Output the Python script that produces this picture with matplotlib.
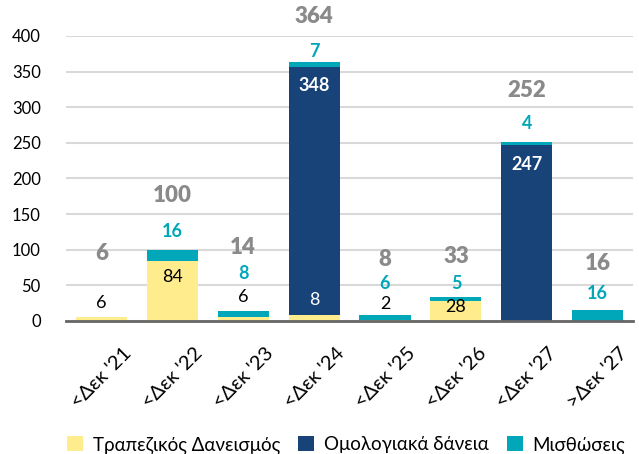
import numpy as np
import matplotlib.pyplot as plt

plt.rcParams['font.family'] = ['Lato', 'DejaVu Sans']

categories = ["<Δεκ '21", "<Δεκ '22", "<Δεκ '23", "<Δεκ '24",
              "<Δεκ '25", "<Δεκ '26", "<Δεκ '27", ">Δεκ '27"]
bank = [6, 84, 6, 8, 2, 28, 0, 0]
bonds = [0, 0, 0, 348, 0, 0, 247, 0]
leases = [0, 16, 8, 7, 6, 5, 4, 16]
totals = [6, 100, 14, 364, 8, 33, 252, 16]

# label placement (y in data units), hand-placed like the original
bank_label_y = [25, 62, 34, 30, 24, 20, None, None]
bond_label_y = [None, None, None, 331, None, None, 220, None]
lease_label_y = [None, 126, 66, 378, 53, 53, 277, 38]
total_label_y = [94, 176, 103, 427, 86, 90, 323, 81]

c_bank = '#FFEC8C'
c_bond = '#174379'
c_lease = '#00A7B9'
c_total = '#8A8A8A'

fig = plt.figure(figsize=(6.39, 4.54), dpi=100)
ax = fig.add_axes([0.103, 0.293, 0.888, 0.628])

x = np.arange(len(categories))
w = 0.72
bank_a = np.array(bank)
bond_a = np.array(bonds)
ax.bar(x, bank, w, color=c_bank, label='Τραπεζικός Δανεισμός', zorder=3)
ax.bar(x, bonds, w, bottom=bank_a, color=c_bond, label='Ομολογιακά δάνεια', zorder=3)
ax.bar(x, leases, w, bottom=bank_a + bond_a, color=c_lease, label='Μισθώσεις', zorder=3)

for i in range(len(categories)):
    if bank_label_y[i] is not None:
        col = 'white' if bonds[i] > 0 else 'black'
        ax.text(x[i], bank_label_y[i], str(bank[i]), ha='center', va='center',
                fontsize=13, color=col, zorder=4)
    if bond_label_y[i] is not None:
        ax.text(x[i], bond_label_y[i], str(bonds[i]), ha='center', va='center',
                fontsize=13, fontweight='bold', color='white', zorder=4)
    if lease_label_y[i] is not None:
        ax.text(x[i], lease_label_y[i], str(leases[i]), ha='center', va='center',
                fontsize=13, fontweight='bold', color=c_lease, zorder=4)
    ax.text(x[i], total_label_y[i], str(totals[i]), ha='center', va='center',
            fontsize=16, fontweight='heavy', color=c_total, zorder=4, clip_on=False)

ax.set_xlim(-0.5, len(categories) - 0.5)
ax.set_ylim(0, 400)
ax.set_yticks(range(0, 401, 50))
ax.yaxis.grid(True, color='#D9D9D9', linewidth=1.5, zorder=0)
ax.set_axisbelow(True)
for s in ['top', 'right', 'left']:
    ax.spines[s].set_visible(False)
ax.spines['bottom'].set_color('#666666')
ax.spines['bottom'].set_linewidth(2)
ax.spines['bottom'].set_zorder(5)
ax.tick_params(axis='y', length=0, pad=18, labelsize=12)
ax.tick_params(axis='x', length=0, pad=17, labelsize=14.5)
ax.set_xticks(x)
ax.set_xticklabels(categories, rotation=45, ha='center')

fig.legend(loc='center left', bbox_to_anchor=(67 / 639, 1 - 445 / 454), ncol=3,
           frameon=False, fontsize=13.5, handlelength=0.85, handleheight=0.85,
           handletextpad=0.53, columnspacing=0.96, borderpad=0, borderaxespad=0)

fig.savefig('out.png', dpi=100)
